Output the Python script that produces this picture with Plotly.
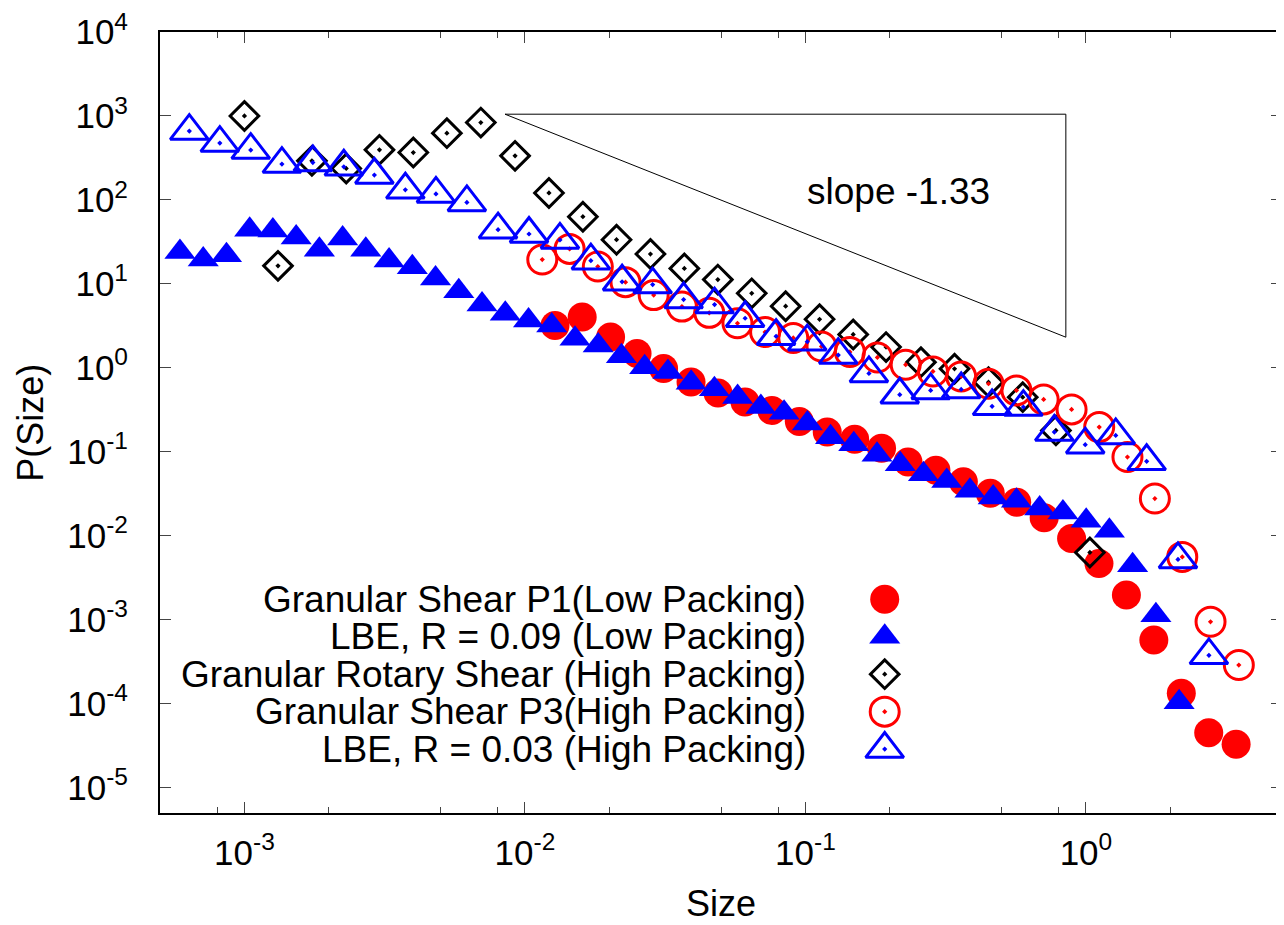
import math
import plotly.graph_objects as go

# ---------------- data ----------------
p1_x = [0.0128, 0.0160, 0.0202, 0.0251, 0.0312, 0.0391, 0.0488, 0.0609, 0.0759, 0.0951,
        0.1196, 0.1498, 0.1868, 0.2321, 0.2919, 0.3656, 0.456, 0.5665, 0.7096, 0.8888,
        1.113, 1.394, 1.746, 2.188, 2.740, 3.431]
p1_y = [3.19, 4.03, 2.33, 1.48, 0.984, 0.680, 0.503, 0.393, 0.311, 0.2305,
        0.1729, 0.1408, 0.1101, 0.0756, 0.0603, 0.0440, 0.0321, 0.0251, 0.0164, 0.00929,
        0.00468, 0.00197, 0.000574, 0.000133, 4.53e-5, 3.30e-5]

lbe09_x = [5.89e-4, 7.13e-4, 8.63e-4, 1.044e-3, 1.263e-3, 1.529e-3, 1.850e-3, 2.239e-3, 2.708e-3,
           3.278e-3, 3.967e-3, 4.800e-3, 5.809e-3, 7.031e-3, 8.508e-3, 1.030e-2, 1.246e-2,
           1.508e-2, 1.825e-2, 2.208e-2, 2.672e-2, 3.234e-2, 3.914e-2, 4.736e-2, 5.731e-2,
           6.936e-2, 8.393e-2, 0.1016, 0.1229, 0.1487, 0.1800, 0.2178, 0.2636, 0.3190, 0.3860,
           0.4671, 0.5653, 0.6841, 0.8279, 1.002, 1.212, 1.467, 1.776, 2.149]
lbe09_y = [24.0, 19.5, 22.0, 44.1, 43.2, 35.7, 25.6, 34.7, 25.6, 19.0, 15.8, 11.6, 8.19, 5.69,
           4.42, 3.67, 3.20, 2.22, 1.85, 1.38, 1.02, 0.891, 0.667, 0.555, 0.449, 0.342, 0.293,
           0.217, 0.1496, 0.1231, 0.0921, 0.0712, 0.0542, 0.0451, 0.0343, 0.0286, 0.0261,
           0.0212, 0.0190, 0.0151, 0.0115, 0.00446, 0.00113, 1.04e-4]

rot_x = [1.0e-3, 1.317e-3, 1.740e-3, 2.306e-3, 3.029e-3, 4.000e-3, 5.269e-3, 6.962e-3, 9.22e-3,
         1.218e-2, 1.609e-2, 2.121e-2, 2.802e-2, 3.701e-2, 4.871e-2, 6.435e-2, 8.500e-2,
         0.1123, 0.1480, 0.1938, 0.2581, 0.3401, 0.4494, 0.5952, 0.7816, 1.033]
rot_y = [1000, 16.4, 292, 237, 395, 367, 624, 835, 335, 121, 63.1, 33.6, 22.7, 15.3, 11.25,
         7.73, 5.42, 3.79, 2.50, 1.77, 1.17, 0.976, 0.676, 0.448, 0.180, 0.00633]

p3_x = [1.153e-2, 1.443e-2, 1.819e-2, 2.283e-2, 2.877e-2, 3.628e-2, 4.539e-2, 5.723e-2, 7.18e-2,
        9.05e-2, 0.1141, 0.1440, 0.1805, 0.2277, 0.2848, 0.3591, 0.4494, 0.5652, 0.7067,
        0.8888, 1.115, 1.406, 1.761, 2.205, 2.781, 3.508]
p3_y = [19.5, 26.1, 16.1, 10.5, 7.36, 5.37, 4.52, 3.40, 2.67, 2.27, 1.80, 1.55, 1.33, 1.09,
        0.906, 0.790, 0.647, 0.539, 0.421, 0.320, 0.197, 0.0867, 0.0278, 0.00561, 9.47e-4, 2.89e-4]

lbe03_x = [6.36e-4, 8.17e-4, 1.053e-3, 1.360e-3, 1.754e-3, 2.261e-3, 2.906e-3, 3.747e-3, 4.817e-3,
           6.209e-3, 8.02e-3, 1.034e-2, 1.333e-2, 1.718e-2, 2.220e-2, 2.853e-2, 3.679e-2,
           4.742e-2, 6.095e-2, 7.86e-2, 0.1015, 0.1309, 0.1684, 0.2169, 0.2795, 0.3591, 0.4628,
           0.5984, 0.7714, 0.9943, 1.277, 1.646, 2.129, 2.744]
lbe03_y = [660, 475, 392, 267, 279, 248, 198, 132, 118, 93.4, 44.2, 39.3, 33.4, 18.9, 10.6, 9.81,
           6.51, 5.67, 3.90, 2.38, 2.05, 1.42, 0.858, 0.479, 0.539, 0.553, 0.348, 0.341, 0.172,
           0.1218, 0.157, 0.0771, 0.00523, 3.77e-4]

series_names = [
    "Granular Shear P1(Low Packing)",
    "LBE, R = 0.09 (Low Packing)",
    "Granular Rotary Shear (High Packing)",
    "Granular Shear P3(High Packing)",
    "LBE, R = 0.03 (High Packing)",
]

# slope guide triangle (data units) and its label
slope_tri_x = [8.49e-3, 0.848, 0.848, 8.49e-3]
slope_tri_y = [1050, 1050, 2.32, 1050]
slope_label = "slope -1.33"
slope_label_pos = (0.214, 125)

x_major = [1e-3, 1e-2, 1e-1, 1]
x_major_text = ["10<sup>-3</sup>", "10<sup>-2</sup>", "10<sup>-1</sup>", "10<sup>0</sup>"]
x_minor = [8e-4, 2e-3, 5e-3, 8e-3, 2e-2, 5e-2, 8e-2, 0.2, 0.5, 0.8, 2]
y_major = [1e-5, 1e-4, 1e-3, 1e-2, 1e-1, 1, 10, 100, 1000, 1e4]
y_major_text = ["10<sup>-5</sup>", "10<sup>-4</sup>", "10<sup>-3</sup>", "10<sup>-2</sup>",
                "10<sup>-1</sup>", "10<sup>0</sup>", "10<sup>1</sup>", "10<sup>2</sup>",
                "10<sup>3</sup>", "10<sup>4</sup>"]

# ---------------- styling ----------------
FONT = "Liberation Sans, Arial, Helvetica, sans-serif"
RED = "#ff0000"
BLUE = "#0000ff"
BLACK = "#000000"

styles = [
    dict(symbol="circle", size=29, color=RED, line=dict(width=0)),
    dict(symbol="triangle-up", size=27, color=BLUE, line=dict(width=0)),
    dict(symbol="diamond-open-dot", size=22, color=BLACK, line=dict(width=3, color=BLACK)),
    dict(symbol="circle-open-dot", size=29, color=RED, line=dict(width=3, color=RED)),
    dict(symbol="triangle-up-open-dot", size=33, color=BLUE, line=dict(width=3, color=BLUE)),
]
data = [(p1_x, p1_y), (lbe09_x, lbe09_y), (rot_x, rot_y), (p3_x, p3_y), (lbe03_x, lbe03_y)]

# the page body adds an 8px margin, so the figure is made 8px smaller on each axis
PAGE_OFF = 8
W, H = 1276, 917
ML, MR, MT, MB = 152, 0, 23, 112
PW, PH = W - ML - MR, H - MT - MB


def px_x(p):
    return (p - PAGE_OFF - ML) / PW


def px_y(p):
    return (H - MB - (p - PAGE_OFF)) / PH


fig = go.Figure()

# slope triangle
fig.add_trace(go.Scatter(x=slope_tri_x, y=slope_tri_y, mode="lines",
                         line=dict(color=BLACK, width=1), hoverinfo="skip"))

for (xs, ys), st, name in zip(data, styles, series_names):
    fig.add_trace(go.Scatter(x=xs, y=ys, mode="markers", name=name, marker=st, cliponaxis=False))

# custom legend: right-aligned text, symbol on the right
legend_text_right = px_x(809)
legend_sym_x = px_x(886)
legend_rows = [599, 636.5, 674, 711.5, 749]
annotations = []
for name, st, row in zip(series_names, styles, legend_rows):
    fig.add_trace(go.Scatter(x=[legend_sym_x], y=[px_y(row)], mode="markers", marker=st,
                             xaxis="x2", yaxis="y2", hoverinfo="skip"))
    annotations.append(dict(text=name, xref="paper", yref="paper", x=legend_text_right,
                            y=px_y(row), xanchor="right", yanchor="middle", showarrow=False,
                            font=dict(family=FONT, size=37, color=BLACK)))

annotations.append(dict(text=slope_label, xref="x", yref="y",
                        x=math.log10(slope_label_pos[0]), y=math.log10(slope_label_pos[1]),
                        showarrow=False, xanchor="center", yanchor="middle",
                        font=dict(family=FONT, size=37, color=BLACK)))
annotations.append(dict(text="Size", xref="paper", yref="paper", x=0.5, y=px_y(904),
                        xanchor="center", yanchor="middle", showarrow=False,
                        font=dict(family=FONT, size=36, color=BLACK)))
annotations.append(dict(text="P(Size)", xref="paper", yref="paper", x=px_x(30), y=0.5,
                        xanchor="center", yanchor="middle", textangle=-90, showarrow=False,
                        font=dict(family=FONT, size=36, color=BLACK)))

axis_common = dict(type="log", showline=True, linecolor=BLACK, linewidth=2, mirror="allticks",
                   ticks="inside", ticklen=11, tickwidth=1, tickcolor="#444",
                   showgrid=False, zeroline=False, ticklabeloverflow="allow",
                   tickfont=dict(family=FONT, size=35, color=BLACK))

fig.update_layout(
    width=W, height=H,
    margin=dict(l=ML, r=MR, t=MT, b=MB),
    paper_bgcolor="white", plot_bgcolor="white",
    showlegend=False,
    font=dict(family=FONT, color=BLACK),
    xaxis=dict(axis_common, range=[math.log10(5e-4), math.log10(5)],
               tickmode="array", tickvals=x_major, ticktext=x_major_text,
               ticklabelstandoff=8,
               minor=dict(tickmode="array", tickvals=x_minor, ticks="inside", ticklen=6,
                          tickwidth=1, tickcolor="#444", showgrid=False)),
    yaxis=dict(axis_common, range=[math.log10(5e-6), 4],
               tickmode="array", tickvals=y_major, ticktext=y_major_text,
               ticklabelstandoff=23),
    xaxis2=dict(overlaying="x", range=[0, 1], visible=False, anchor="y2"),
    yaxis2=dict(overlaying="y", range=[0, 1], visible=False, anchor="x2"),
    annotations=annotations,
)

fig.write_html("out.html")
